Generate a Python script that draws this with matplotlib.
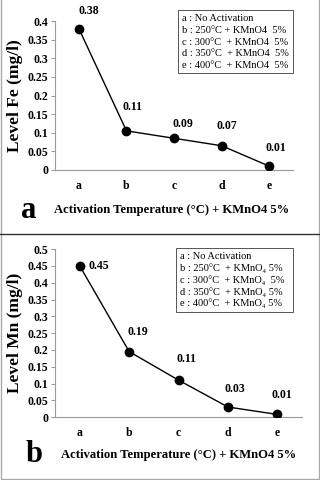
import matplotlib
matplotlib.use('Agg')
import matplotlib.pyplot as plt
from matplotlib.lines import Line2D
from matplotlib.patches import Rectangle

plt.rcParams['font.family'] = ['Liberation Serif', 'DejaVu Serif']

# data
categories = ['a', 'b', 'c', 'd', 'e']
fe_values = [0.38, 0.105, 0.085, 0.065, 0.01]
fe_labels = ['0.38', '0.11', '0.09', '0.07', '0.01']
mn_values = [0.45, 0.195, 0.11, 0.03, 0.008]
mn_labels = ['0.45', '0.19', '0.11', '0.03', '0.01']
fe_yticks = [0, 0.05, 0.1, 0.15, 0.2, 0.25, 0.3, 0.35, 0.4]
mn_yticks = [0, 0.05, 0.1, 0.15, 0.2, 0.25, 0.3, 0.35, 0.4, 0.45, 0.5]
fe_legend = ['a : No Activation', 'b : 250°C + KMnO4  5%', 'c : 300°C  + KMnO4  5%',
             'd : 350°C  + KMnO4  5%', 'e : 400°C  + KMnO4  5%']
mn_legend = ['a : No Activation', 'b : 250°C  + KMnO₄ 5%', 'c : 300°C  + KMnO₄  5%',
             'd : 350°C  + KMnO₄ 5%', 'e : 400°C  + KMnO₄ 5%']

# label offsets in points (style only)
fe_off = [(7, 13), (4, 17), (6, 10), (4, 14), (5, 13)]
mn_off = [(14, 0), (6, 14), (6, 15), (5, 13), (3, 14)]

fig = plt.figure(figsize=(3.2, 4.8), dpi=100)


def panel(rect, values, labels, offs, yticks, ylabel, leg, legbox, letter, lx, cx, ly):
    ax = fig.add_axes(rect)
    x = range(len(categories))
    ax.plot(x, values, color='black', lw=1, marker='o', ms=6, zorder=3)
    for i, (v, t) in enumerate(zip(values, labels)):
        ax.annotate(t, (i, v), xytext=offs[i], textcoords='offset points',
                    ha='center', va='center', fontsize=8.5, fontweight='bold')
    ax.set_xlim(-0.5, 4.5)
    ax.set_ylim(0, yticks[-1])
    ax.set_xticks(list(x))
    ax.set_xticklabels(categories, fontsize=8.5, fontweight='bold')
    ax.set_yticks(yticks)
    ax.set_yticklabels(['%g' % t for t in yticks], fontsize=8.5, fontweight='bold')
    for s in ['top', 'right']:
        ax.spines[s].set_visible(False)
    for s in ['left', 'bottom']:
        ax.spines[s].set_color('#9a9a9a')
        ax.spines[s].set_linewidth(0.8)
    ax.tick_params(axis='y', length=3, color='#9a9a9a', pad=2)
    ax.tick_params(axis='x', length=0, pad=7)
    ax.set_ylabel(ylabel, fontsize=12.5, fontweight='bold', labelpad=3)
    # legend box
    bx, by, bw, bh = legbox
    fig.patches.append(Rectangle((bx, by), bw, bh, transform=fig.transFigure,
                                 fill=True, facecolor='white', edgecolor='#555555', lw=0.7, zorder=5))
    for k, t in enumerate(leg):
        fig.text(bx + 0.012, by + bh - 0.018 - k * 0.0243, t, fontsize=7.5,
                 va='center', ha='left', zorder=6)
    fig.text(lx, ly, letter, fontsize=22, fontweight='bold', va='center', ha='center')
    fig.text(cx, ly, 'Activation Temperature (°C) + KMnO4 5%', fontsize=9.1,
             fontweight='bold', va='center', ha='center')
    return ax


panel([0.172, 0.646, 0.744, 0.310], fe_values, fe_labels, fe_off, fe_yticks,
      'Level Fe (mg/l)', fe_legend, (0.556, 0.848, 0.360, 0.131),
      'a', 29 / 320, 172 / 320, 1 - 210 / 480)
panel([0.172, 0.131, 0.772, 0.350], mn_values, mn_labels, mn_off, mn_yticks,
      'Level Mn (mg/l)', mn_legend, (0.550, 0.350, 0.366, 0.133),
      'b', 34 / 320, 179 / 320, 1 - 455 / 480)

# divider and outer frame
fig.lines.append(Line2D([0, 1], [1 - 234 / 480, 1 - 234 / 480], transform=fig.transFigure,
                        color='#333333', lw=1))
fig.patches.append(Rectangle((0.002, 0.003), 0.994, 1.2, transform=fig.transFigure,
                             fill=False, edgecolor='#aaaaaa', lw=1))

fig.savefig('out.png', dpi=100)
